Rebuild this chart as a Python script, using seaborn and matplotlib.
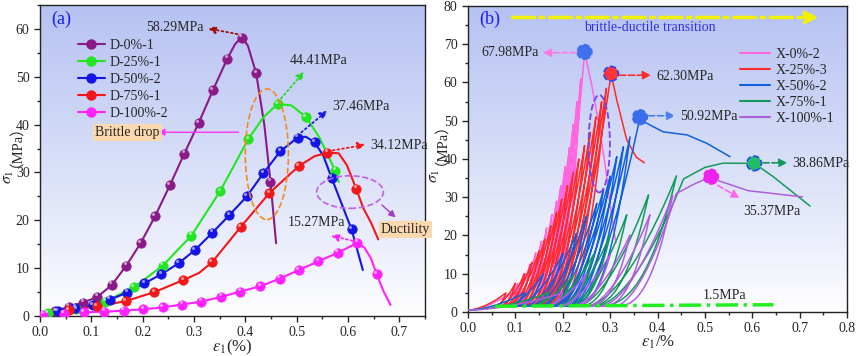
import numpy as np
import pandas as pd
import matplotlib
matplotlib.use("Agg")
import matplotlib.pyplot as plt
import seaborn as sns
from matplotlib.patches import Ellipse
from matplotlib.lines import Line2D
from matplotlib.ticker import MultipleLocator, AutoMinorLocator
from matplotlib.colors import LinearSegmentedColormap

sns.set_style("ticks")
plt.rcParams['font.family'] = ['Liberation Serif', 'Noto Sans CJK SC']
plt.rcParams['mathtext.fontset'] = 'stix'

# ---------------- panel (a) data: monotonic curves ----------------
names_a = ['D-0%-1', 'D-25%-1', 'D-50%-2', 'D-75%-1', 'D-100%-2']
colors_a = ['#8a1a88', '#22e622', '#1414e6', '#f01818', '#ff22ff']

# marker points
d0_mk_e = [0.030, 0.056, 0.084, 0.112, 0.140, 0.168, 0.196, 0.224, 0.253, 0.281, 0.309, 0.337, 0.365, 0.393, 0.421, 0.449]
d0_mk_s = [1.0, 1.95, 2.8, 4.0, 6.5, 10.5, 15.2, 20.8, 27.3, 33.9, 40.3, 47.2, 53.8, 58.2, 50.8, 28.1]
d25_mk_e = [0.015, 0.071, 0.127, 0.183, 0.239, 0.295, 0.351, 0.406, 0.463, 0.518, 0.575]
d25_mk_s = [0.6, 1.4, 3.0, 6.0, 10.5, 16.8, 26.1, 37.0, 44.3, 41.6, 30.4]
d50_mk_e = [0.035, 0.069, 0.103, 0.136, 0.170, 0.203, 0.236, 0.270, 0.302, 0.336, 0.369, 0.403, 0.435, 0.468, 0.502, 0.535, 0.568, 0.607]
d50_mk_s = [1.0, 1.75, 2.3, 3.4, 4.9, 6.8, 8.7, 11.0, 13.8, 17.4, 21.1, 25.0, 29.8, 34.4, 37.3, 36.3, 28.9, 18.1]
d75_mk_e = [0.056, 0.111, 0.167, 0.223, 0.279, 0.335, 0.391, 0.447, 0.504, 0.560, 0.616]
d75_mk_s = [1.2, 2.0, 3.1, 5.0, 7.5, 11.2, 18.6, 25.7, 31.3, 34.1, 26.6]
d100_mk_e = [0.006, 0.046, 0.085, 0.125, 0.163, 0.201, 0.239, 0.277, 0.314, 0.353, 0.390, 0.429, 0.467, 0.504, 0.542, 0.580, 0.618, 0.656]
d100_mk_s = [0.3, 0.5, 0.77, 0.9, 1.1, 1.4, 1.8, 2.4, 3.0, 4.0, 5.1, 6.2, 7.8, 9.6, 11.4, 13.2, 15.3, 8.7]

# full line paths
d0_e = [0.0, 0.030, 0.056, 0.084, 0.112, 0.140, 0.168, 0.196, 0.224, 0.253, 0.281, 0.309, 0.337, 0.365, 0.380, 0.393, 0.405, 0.421, 0.437, 0.449, 0.460]
d0_s = [0.5, 1.0, 1.95, 2.8, 4.0, 6.5, 10.5, 15.2, 20.8, 27.3, 33.9, 40.3, 47.2, 53.8, 56.8, 58.29, 56.5, 50.8, 40.0, 28.1, 15.2]
d25_e = [0.0, 0.015, 0.071, 0.127, 0.183, 0.239, 0.295, 0.351, 0.406, 0.435, 0.463, 0.490, 0.518, 0.545, 0.575, 0.582]
d25_s = [0.5, 0.6, 1.4, 3.0, 6.0, 10.5, 16.8, 26.1, 37.0, 41.5, 44.3, 44.0, 41.6, 37.2, 30.4, 28.0]
d50_e = [0.0, 0.035, 0.069, 0.103, 0.136, 0.170, 0.203, 0.236, 0.270, 0.302, 0.336, 0.369, 0.403, 0.435, 0.468, 0.502, 0.518, 0.535, 0.552, 0.568, 0.607, 0.629]
d50_s = [0.8, 1.0, 1.75, 2.3, 3.4, 4.9, 6.8, 8.7, 11.0, 13.8, 17.4, 21.1, 25.0, 29.8, 34.4, 37.3, 37.46, 36.3, 33.5, 28.9, 18.1, 9.6]
d75_e = [0.0, 0.056, 0.111, 0.167, 0.223, 0.279, 0.310, 0.335, 0.360, 0.391, 0.447, 0.504, 0.535, 0.560, 0.582, 0.598, 0.616, 0.630, 0.645, 0.659]
d75_s = [0.4, 1.2, 2.0, 3.1, 5.0, 7.5, 9.0, 11.2, 14.5, 18.6, 25.7, 31.3, 33.4, 34.12, 34.0, 31.5, 26.6, 22.5, 19.5, 16.0]
d100_e = [0.0, 0.006, 0.046, 0.085, 0.125, 0.163, 0.201, 0.239, 0.277, 0.314, 0.353, 0.390, 0.429, 0.467, 0.504, 0.542, 0.580, 0.618, 0.632, 0.645, 0.656, 0.670, 0.683]
d100_s = [0.3, 0.3, 0.5, 0.77, 0.9, 1.1, 1.4, 1.8, 2.4, 3.0, 4.0, 5.1, 6.2, 7.8, 9.6, 11.4, 13.2, 15.27, 14.3, 12.0, 8.7, 5.0, 2.3]

paths_a = [(d0_e, d0_s), (d25_e, d25_s), (d50_e, d50_s), (d75_e, d75_s), (d100_e, d100_s)]
marks_a = [(d0_mk_e, d0_mk_s), (d25_mk_e, d25_mk_s), (d50_mk_e, d50_mk_s), (d75_mk_e, d75_mk_s), (d100_mk_e, d100_mk_s)]

# ---------------- panel (b) data: cyclic loading ----------------
names_b = ['X-0%-2', 'X-25%-3', 'X-50%-2', 'X-75%-1', 'X-100%-1']
colors_b = ['#ff66e0', '#ff2a2a', '#1060dd', '#139a5a', '#b05ee0']

# cycle peak strain / stress and residual strain after unloading (to 1.5 MPa)
x0_pk_e = [0.09, 0.105, 0.118, 0.131, 0.143, 0.155, 0.166, 0.177, 0.187, 0.196, 0.205, 0.214, 0.222, 0.230, 0.238]
x0_pk_s = [5, 7.5, 10, 12.5, 15.5, 18.5, 22, 25.5, 29, 33, 38, 43, 49, 55, 61]
x0_res = [0.070, 0.078, 0.086, 0.094, 0.102, 0.110, 0.118, 0.125, 0.132, 0.139, 0.146, 0.153, 0.160, 0.166, 0.172]
x0_tail_e = [0.246, 0.260, 0.275, 0.290, 0.300, 0.312]
x0_tail_s = [67.98, 60, 50, 38, 28, 18]

x25_pk_e = [0.080, 0.100, 0.120, 0.135, 0.150, 0.162, 0.175, 0.187, 0.198, 0.210, 0.222, 0.234, 0.246, 0.258, 0.270, 0.282, 0.292]
x25_pk_s = [5, 7.5, 10, 13, 16, 19, 22.5, 26, 29.5, 33, 36.5, 40, 43.5, 47, 51, 55, 58.5]
x25_res = [0.055, 0.065, 0.075, 0.085, 0.095, 0.105, 0.113, 0.120, 0.128, 0.135, 0.142, 0.150, 0.157, 0.163, 0.170, 0.176, 0.182]
x25_tail_e = [0.302, 0.314, 0.335, 0.355, 0.372]
x25_tail_s = [62.30, 55.4, 45, 40.5, 39]

x50_pk_e = [0.120, 0.159, 0.201, 0.229, 0.250, 0.272, 0.286, 0.300, 0.314, 0.328, 0.342]
x50_pk_s = [5, 10, 15.3, 20.6, 25, 28.4, 32, 35.5, 40.6, 43.2, 45.8]
x50_res = [0.080, 0.100, 0.120, 0.140, 0.155, 0.170, 0.180, 0.190, 0.200, 0.210, 0.220]
x50_tail_e = [0.363, 0.370, 0.412, 0.462, 0.504, 0.553]
x50_tail_s = [50.92, 49.8, 47.1, 46.3, 44.1, 40.6]

x75_pk_e = [0.170, 0.222, 0.265, 0.300, 0.335, 0.381, 0.440]
x75_pk_s = [5, 9.5, 15, 20.1, 25.4, 30.6, 35.6]
x75_res = [0.130, 0.160, 0.190, 0.210, 0.230, 0.250, 0.270]
x75_tail_e = [0.455, 0.500, 0.538, 0.604, 0.644, 0.722]
x75_tail_s = [34.8, 37.8, 38.9, 38.86, 35.4, 27.7]

x100_pk_e = [0.200, 0.250, 0.300, 0.342, 0.384, 0.432]
x100_pk_s = [5, 10, 15, 20.1, 25.4, 30.5]
x100_res = [0.160, 0.190, 0.220, 0.250, 0.280, 0.310]
x100_tail_e = [0.440, 0.480, 0.513, 0.522, 0.592, 0.706]
x100_tail_s = [31.0, 33.6, 35.37, 34.6, 31.7, 30.1]

cycles_b = [
    (x0_pk_e, x0_pk_s, x0_res, x0_tail_e, x0_tail_s),
    (x25_pk_e, x25_pk_s, x25_res, x25_tail_e, x25_tail_s),
    (x50_pk_e, x50_pk_s, x50_res, x50_tail_e, x50_tail_s),
    (x75_pk_e, x75_pk_s, x75_res, x75_tail_e, x75_tail_s),
    (x100_pk_e, x100_pk_s, x100_res, x100_tail_e, x100_tail_s),
]

peak_e_b = [0.246, 0.302, 0.363, 0.604, 0.513]
peak_s_b = [67.98, 62.30, 50.92, 38.86, 35.37]
peak_fc_b = ['#4070ee', '#ff3535', '#3a6cee', '#22bb66', '#ee22ee']
peak_ec_b = ['#4070ee', '#2244ff', '#3a6cee', '#2244ff', '#ee22ee']


def cycle_path(pk_e, pk_s, res, tail_e, tail_s):
    # loading/unloading loops between the read peak and residual points
    xs, ys = [], []
    e0, s0 = 0.0, 0.5
    targets = list(zip(pk_e, pk_s)) + [(tail_e[0], tail_s[0])]
    t = np.linspace(0, 1, 30)
    for i, (pe, ps) in enumerate(targets):
        xs += list(e0 + (pe - e0) * t)
        ys += list(s0 + (ps - s0) * t ** 1.7)
        if i < len(res):
            u = t[::-1]
            xs += list(res[i] + (pe - res[i]) * u)
            ys += list(1.5 + (ps - 1.5) * u ** 2.6)
            e0, s0 = res[i], 1.5
    xs += list(tail_e[1:])
    ys += list(tail_s[1:])
    return xs, ys


def add_gradient(ax):
    cmap = LinearSegmentedColormap.from_list('bg', ['#ffffff', '#b6c2f2'])
    g = np.linspace(0, 1, 256)[:, None] ** 0.9
    ax.imshow(g, extent=[0, 1, 0, 1], transform=ax.transAxes, origin='lower',
              aspect='auto', cmap=cmap, zorder=0, interpolation='bicubic')


fig = plt.figure(figsize=(8.58, 3.56), dpi=100)
ax1 = fig.add_axes([0.0466, 0.1124, 0.4487, 0.8736])
ax2 = fig.add_axes([0.5455, 0.1236, 0.4417, 0.8596])

# ---------------- panel (a) ----------------
add_gradient(ax1)
for (pe, ps), (me, ms), c in zip(paths_a, marks_a, colors_a):
    sns.lineplot(x=pe, y=ps, sort=False, estimator=None, color=c, lw=1.5, ax=ax1, zorder=3)
    sns.scatterplot(x=me, y=ms, color=c, s=45, edgecolor=c, linewidth=0.6, ax=ax1, zorder=4)
    ax1.scatter(np.array(me) - 0.003, np.array(ms) + 0.5, s=5, color='white', alpha=0.55, lw=0, zorder=5)

handles_a = [Line2D([], [], color=c, lw=1.5, marker='o', markersize=6.5) for c in colors_a]
ax1.legend(handles_a, names_a, loc='upper left', bbox_to_anchor=(0.065, 0.93), frameon=False,
           fontsize=10, handlelength=2.0, labelspacing=0.28, handletextpad=0.3)

ax1.text(0.022, 62, '(a)', color='#1a1aff', fontsize=13, va='center')

dot = dict(arrowstyle='-|>', ls=':', lw=1.3, mutation_scale=11)
ax1.annotate('', xy=(0.322, 60.2), xytext=(0.39, 58.8), arrowprops=dict(dot, color='#a01010'))
ax1.text(0.318, 60.2, '58.29MPa', ha='right', va='center', fontsize=10)
ax1.annotate('', xy=(0.518, 51.5), xytext=(0.466, 45.0), arrowprops=dict(dot, color='#22dd22'))
ax1.text(0.487, 53.5, '44.41MPa', ha='left', va='center', fontsize=10)
ax1.annotate('', xy=(0.564, 43.3), xytext=(0.505, 38.0), arrowprops=dict(dot, color='#1a1ae6'))
ax1.text(0.569, 43.7, '37.46MPa', ha='left', va='center', fontsize=10)
ax1.annotate('', xy=(0.639, 35.9), xytext=(0.565, 34.5), arrowprops=dict(dot, color='#f01818'))
ax1.text(0.643, 35.6, '34.12MPa', ha='left', va='center', fontsize=10)
ax1.annotate('', xy=(0.562, 16.9), xytext=(0.614, 15.6), arrowprops=dict(dot, color='#ff22ff'))
ax1.text(0.482, 19.6, '15.27MPa', ha='left', va='center', fontsize=10)

ax1.add_patch(Ellipse((0.442, 33.8), 0.084, 27.3, fill=False, ec='#f08a20', ls='--', lw=1.2, zorder=6))
ax1.annotate('', xy=(0.224, 38.4), xytext=(0.392, 38.4),
             arrowprops=dict(arrowstyle='-|>', color='#ff33ff', lw=1.0, mutation_scale=10))
ax1.text(0.108, 38.4, 'Brittle drop', ha='left', va='center', fontsize=10,
         bbox=dict(boxstyle='square,pad=0.15', fc='#fcd8ae', ec='none'))
ax1.add_patch(Ellipse((0.604, 25.9), 0.13, 6.8, fill=False, ec='#c060e8', ls='--', lw=1.2, zorder=6))
ax1.annotate('', xy=(0.697, 20.2), xytext=(0.662, 23.6),
             arrowprops=dict(arrowstyle='-|>', color='#a040c0', lw=1.0, mutation_scale=10))
ax1.text(0.664, 18.0, 'Ductility', ha='left', va='center', fontsize=10,
         bbox=dict(boxstyle='square,pad=0.15', fc='#fcd8ae', ec='none'))

ax1.set_xlim(0, 0.75)
ax1.set_ylim(0, 65)
ax1.yaxis.set_major_locator(MultipleLocator(10))
ax1.set_xticks(np.arange(0, 0.71, 0.1))
ax1.set_xticklabels(['%.1f' % v for v in np.arange(0, 0.71, 0.1)])
ax1.set_xlabel(r'$\varepsilon_1$(%)', fontsize=12, labelpad=-1)

# ---------------- panel (b) ----------------
add_gradient(ax2)
rows = []
for name, cyc in zip(names_b, cycles_b):
    xs, ys = cycle_path(*cyc)
    rows.append(pd.DataFrame({'strain': xs, 'stress': ys, 'specimen': name}))
df_b = pd.concat(rows, ignore_index=True)
sns.lineplot(data=df_b, x='strain', y='stress', hue='specimen', palette=colors_b,
             units='specimen', estimator=None, sort=False, lw=1.1, ax=ax2, legend=False, zorder=3)

handles_b = [Line2D([], [], color=c, lw=1.5) for c in colors_b]
ax2.legend(handles_b, names_b, loc='upper right', bbox_to_anchor=(1.0, 0.905), frameon=False,
           fontsize=10, handlelength=2.2, labelspacing=0.22, handletextpad=0.4)

ax2.scatter(peak_e_b, peak_s_b, s=110, c=peak_fc_b, edgecolors=peak_ec_b, linewidths=1.2,
            linestyle='--', zorder=6)

dash = dict(arrowstyle='-|>', ls='--', lw=1.2, mutation_scale=12)
ax2.annotate('', xy=(0.152, 67.8), xytext=(0.235, 67.8), arrowprops=dict(dash, color='#ff77e0'))
ax2.text(0.149, 67.8, '67.98MPa', ha='right', va='center', fontsize=10)
ax2.annotate('', xy=(0.392, 61.9), xytext=(0.314, 61.9), arrowprops=dict(dash, color='#ff2a2a'))
ax2.text(0.398, 61.6, '62.30MPa', ha='left', va='center', fontsize=10)
ax2.annotate('', xy=(0.443, 51.3), xytext=(0.375, 51.3), arrowprops=dict(dash, color='#4a80ee'))
ax2.text(0.448, 51.0, '50.92MPa', ha='left', va='center', fontsize=10)
ax2.annotate('', xy=(0.68, 39.0), xytext=(0.617, 39.0), arrowprops=dict(dash, color='#139a5a'))
ax2.text(0.684, 38.9, '38.86MPa', ha='left', va='center', fontsize=10)
ax2.annotate('', xy=(0.578, 29.4), xytext=(0.522, 33.5), arrowprops=dict(dash, color='#ff66ee'))
ax2.text(0.581, 26.3, '35.37MPa', ha='left', va='center', fontsize=10)

ax2.add_patch(Ellipse((0.277, 44.0), 0.045, 25.5, fill=False, ec='#8040ee', ls='--',
                      lw=1.3, zorder=6))

ax2.annotate('', xy=(0.745, 77.0), xytext=(0.088, 77.0),
             arrowprops=dict(arrowstyle='-|>', ls='-.', lw=2.5, color='#f2f200', mutation_scale=18))
ax2.text(0.384, 74.5, 'brittle-ductile transition', ha='center', va='center', color='#3030e0', fontsize=10)
ax2.text(0.024, 76.5, '(b)', color='#1a1aff', fontsize=13, va='center')

sns.lineplot(x=[0.057, 0.645], y=[1.5, 1.9], color='#22ee22', lw=2.5, ls='-.', ax=ax2, zorder=5)
ax2.text(0.496, 4.2, '1.5MPa', ha='left', va='center', fontsize=10)

ax2.set_xlim(0, 0.8)
ax2.set_ylim(0, 80)
ax2.set_xticks(np.arange(0, 0.81, 0.1))
ax2.set_xticklabels(['%.1f' % v for v in np.arange(0, 0.81, 0.1)])
ax2.yaxis.set_major_locator(MultipleLocator(10))
ax2.set_xlabel(r'$\varepsilon_1$/%', fontsize=12, labelpad=-1)

# ---------------- common styling ----------------
for ax, xlab in [(ax1, -0.083), (ax2, -0.09)]:
    ax.set_ylabel('')
    ax.xaxis.set_minor_locator(AutoMinorLocator(2))
    ax.yaxis.set_minor_locator(AutoMinorLocator(2))
    ax.tick_params(which='major', direction='out', length=4, width=1, labelsize=10,
                   top=False, right=False)
    ax.tick_params(which='minor', direction='out', length=2.5, width=1, top=False, right=False)
    for sp in ax.spines.values():
        sp.set_visible(True)
        sp.set_linewidth(1.0)
        sp.set_color('#222222')
    ax.text(xlab, 0.47, r'$\sigma_1$', transform=ax.transAxes, rotation=90,
            ha='center', va='top', fontsize=11.5)
    ax.text(xlab, 0.48, '（MPa）', transform=ax.transAxes, rotation=90,
            ha='center', va='bottom', fontsize=10.5)

fig.savefig('out.png', dpi=100)
